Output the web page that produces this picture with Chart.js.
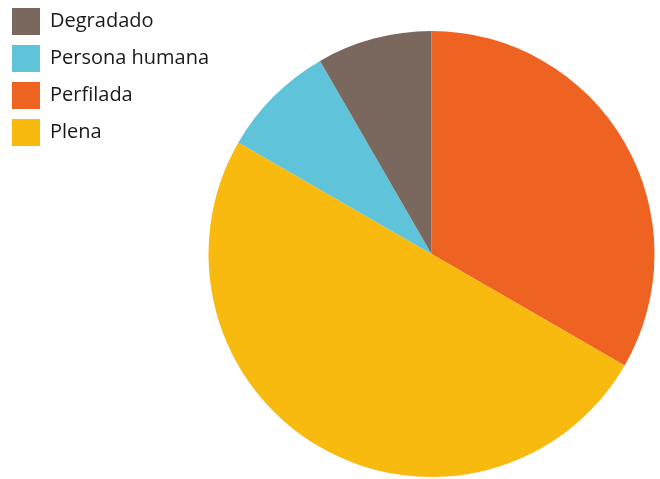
<!DOCTYPE html>
<html>
<head>
<meta charset="utf-8">
<script src="https://cdn.jsdelivr.net/npm/chart.js@4"></script>
<style>
  html, body { margin: 0; padding: 0; background: #fff; }
  #wrap { width: 660px; height: 479px; }
</style>
</head>
<body>
<div id="wrap"><canvas id="pieChart" width="660" height="479"></canvas></div>
<script>
// ===========================
// Data
// ===========================
const labels = ["Perfilada", "Plena", "Persona humana", "Degradado"];
const values = [4, 6, 1, 1];
const colors = ["#ee6322", "#f9ba0f", "#5fc3da", "#7a685e"];
const legendOrder = ["Degradado", "Persona humana", "Perfilada", "Plena"];

// move the legend up to the top edge (layout padding only pushes the pie down)
// and let its text run a bit past the box so it isn't cut off
const legendLift = {
    id: 'legendLift',
    afterLayout(chart) {
        const lg = chart.legend;
        lg.top -= 33;
        lg.bottom -= 33;
        lg.right += 20;
        lg.width += 20;
    }
};

// ===========================
// Chart
// ===========================
const ctx = document.getElementById("pieChart").getContext("2d");
const pieChart = new Chart(ctx, {
    type: 'pie',
    data: {
        labels: labels,
        datasets: [{ data: values, backgroundColor: colors, borderWidth: 0 }]
    },
    options: {
        responsive: false,
        animation: false,
        layout: { padding: { top: 31, bottom: 2, right: 4, left: 2 } },
        plugins: {
            legend: {
                position: 'left',
                align: 'start',
                maxWidth: 205,
                labels: {
                    boxWidth: 28,
                    boxHeight: 27,
                    padding: 10,
                    color: "#1a1a1a",
                    font: { family: "Open Sans", size: 20 },
                    sort: (a, b) => legendOrder.indexOf(a.text) - legendOrder.indexOf(b.text)
                }
            },
            tooltip: { enabled: false }
        }
    },
    plugins: [legendLift]
});
</script>
</body>
</html>
